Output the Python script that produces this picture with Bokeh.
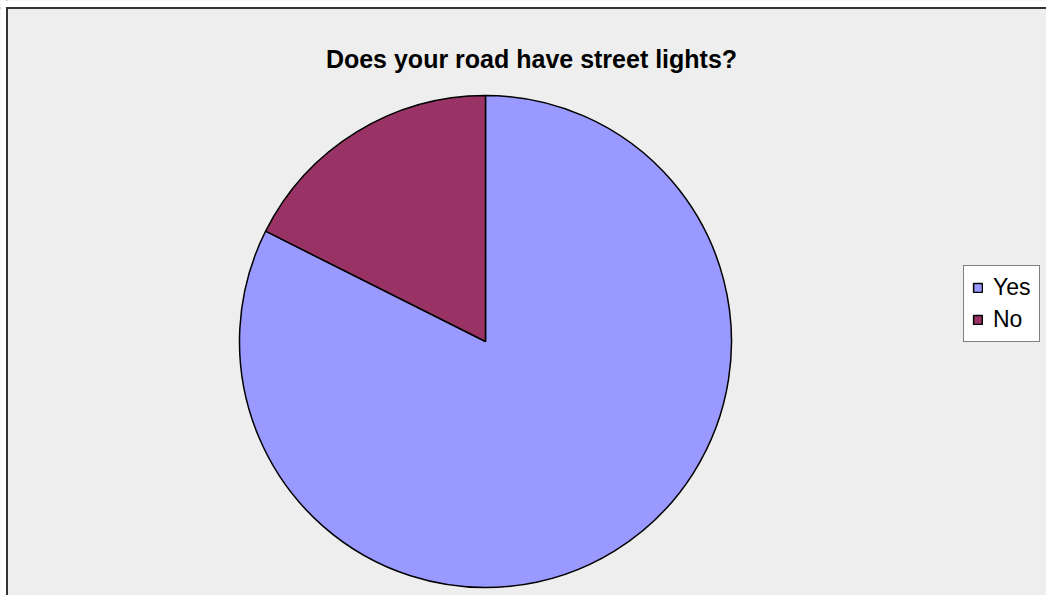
from math import pi
from bokeh.plotting import figure
from bokeh.models import Range1d, Legend, LegendItem, Label, Span, BoxAnnotation, ColumnDataSource
from bokeh.embed import file_html
from bokeh.resources import INLINE

# ---- data ----
categories = ["Yes", "No"]
values = [82.4, 17.6]
colors = ["#9999FF", "#993366"]
title_text = "Does your road have street lights?"

W, H = 1046, 595
total = sum(values)
starts, ends = [], []
cum = 0.0
for v in values:
    starts.append(pi / 2 - 2 * pi * cum / total)
    cum += v
    ends.append(pi / 2 - 2 * pi * cum / total)

src = ColumnDataSource(dict(cat=categories, val=values, color=colors,
                            start=starts, end=ends))

p = figure(width=W, height=H, output_backend="svg", toolbar_location=None,
           x_range=Range1d(0, W), y_range=Range1d(0, H), min_border=0,
           background_fill_color="#EEEEEE", border_fill_color="white")
p.axis.visible = False
p.grid.visible = False
p.outline_line_color = None

# chart border (left and top), then white page area outside it
p.add_layout(Span(location=6.5, dimension="height", line_color="#333333", line_width=2))
p.add_layout(Span(location=H - 7.5, dimension="width", line_color="#333333", line_width=2))
p.add_layout(BoxAnnotation(right=5.5, fill_color="white", fill_alpha=1, line_color=None))
p.add_layout(BoxAnnotation(bottom=H - 6.5, fill_color="white", fill_alpha=1, line_color=None))

cx, cy, R = 485, H - 341, 246
r = p.wedge(x=cx, y=cy, radius=R, radius_units="screen",
            start_angle="start", end_angle="end", direction="clock",
            fill_color="color", line_color="black", line_width=1.5, source=src)

items = [LegendItem(label=c, renderers=[r], index=i) for i, c in enumerate(categories)]
legend = Legend(items=items, location=(963, H - 342), orientation="vertical",
                label_text_font="Liberation Sans", label_text_font_size="23px",
                label_text_color="black",
                glyph_width=11, glyph_height=11, label_standoff=10,
                padding=8, spacing=5, label_height=22,
                border_line_color="black", border_line_width=1.5,
                background_fill_color="white", background_fill_alpha=1.0)
p.add_layout(legend, "center")

p.add_layout(Label(x=531, y=H - 58.5, x_units="screen", y_units="screen",
                   text=title_text, text_align="center", text_baseline="alphabetic",
                   text_font="Liberation Sans", text_font_style="bold",
                   text_font_size="25px", text_color="black"))

open("out.html", "w").write(file_html(p, INLINE))
